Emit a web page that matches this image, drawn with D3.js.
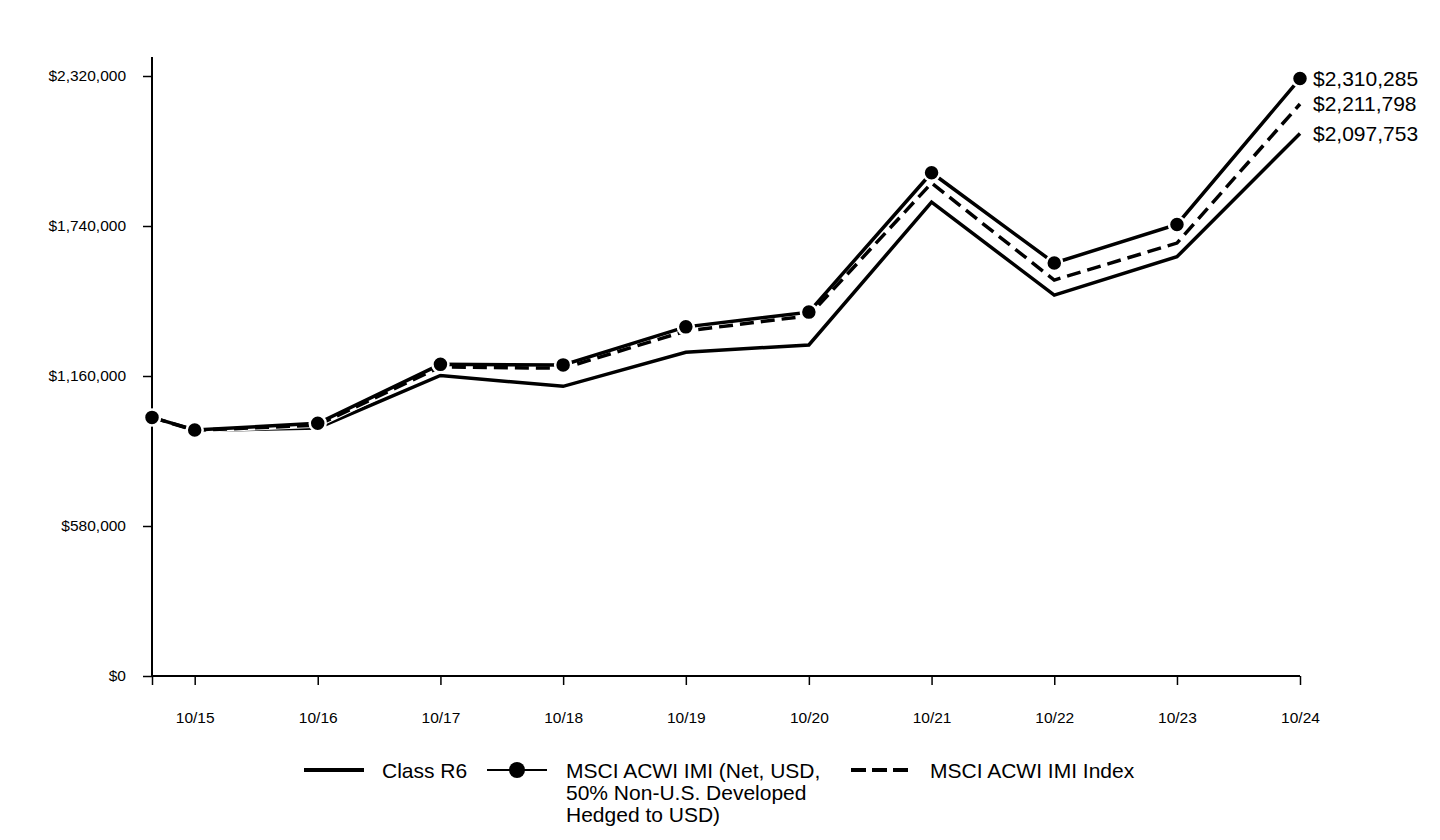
<!DOCTYPE html>
<html>
<head>
<meta charset="utf-8">
<script src="https://cdn.jsdelivr.net/npm/d3@7"></script>
<style>
  html, body { margin: 0; padding: 0; background: #fff; }
  svg { display: block; font-family: Arial, "Liberation Sans", Helvetica, sans-serif; }
</style>
</head>
<body>
<svg id="chart" width="1440" height="840"></svg>
<script>
// ---- data ----
const dates = ["2015-06-26", "2015-10-31", "2016-10-31", "2017-10-31", "2018-10-31", "2019-10-31",
               "2020-10-31", "2021-10-31", "2022-10-31", "2023-10-31", "2024-10-31"];
const tickLabels = ["", "10/15", "10/16", "10/17", "10/18", "10/19", "10/20", "10/21", "10/22", "10/23", "10/24"];
const classR6 = [1000000, 949000, 959000, 1162000, 1120000, 1252000, 1280000, 1832000, 1473000, 1621000, 2097753];
const msciHedged = [1000000, 951000, 977000, 1205000, 1203000, 1350000, 1407000, 1946000, 1597000, 1746000, 2310285];
const msciIndex = [1000000, 950000, 970000, 1195000, 1190000, 1334000, 1393000, 1906000, 1531000, 1674000, 2211798];
const yTicks = [0, 580000, 1160000, 1740000, 2320000];
const seriesNames = ["Class R6", "MSCI ACWI IMI (Net, USD,|50% Non-U.S. Developed|Hedged to USD)", "MSCI ACWI IMI Index"];

(function () {
const parse = d3.timeParse("%Y-%m-%d");
const xDates = dates.map(parse);

const svg = d3.select("#chart");
const mLeft = 152, mRight = 1300, mTop = 76, mBottom = 676;

const x = d3.scaleTime().domain([xDates[0], xDates[xDates.length - 1]]).range([mLeft, mRight]);
const y = d3.scaleLinear().domain([0, 2320000]).range([mBottom, mTop]);

// ---- axes ----
const yAxis = d3.axisLeft(y).tickValues(yTicks).tickSize(9).tickPadding(17)
  .tickFormat(d => "$" + d3.format(",")(d));
const gy = svg.append("g").attr("transform", `translate(${mLeft},0)`).call(yAxis);
gy.select(".domain").remove();
gy.selectAll(".tick line").attr("stroke", "#000").attr("stroke-width", 1.5);
gy.selectAll(".tick text").attr("font-size", 15.5).attr("fill", "#000");
svg.append("line").attr("x1", mLeft).attr("x2", mLeft).attr("y1", 57).attr("y2", mBottom)
  .attr("stroke", "#000").attr("stroke-width", 2);

const xAxis = d3.axisBottom(x).tickValues(xDates).tickSize(9).tickPadding(27)
  .tickFormat((d, i) => tickLabels[i]);
const gx = svg.append("g").attr("transform", `translate(0,${mBottom})`).call(xAxis);
gx.select(".domain").remove();
gx.selectAll(".tick line").attr("stroke", "#000").attr("stroke-width", 1.5);
gx.selectAll(".tick text").attr("font-size", 15.5).attr("fill", "#000");
svg.append("line").attr("x1", mLeft).attr("x2", mRight).attr("y1", mBottom).attr("y2", mBottom)
  .attr("stroke", "#000").attr("stroke-width", 2);

// ---- lines ----
const line = d3.line().x((d, i) => x(xDates[i])).y(d => y(d));

svg.append("path").datum(classR6).attr("d", line)
  .attr("fill", "none").attr("stroke", "#000").attr("stroke-width", 3.5);
svg.append("path").datum(msciIndex).attr("d", line)
  .attr("fill", "none").attr("stroke", "#fff").attr("stroke-width", 5.5);
svg.append("path").datum(msciIndex).attr("d", line)
  .attr("fill", "none").attr("stroke", "#000").attr("stroke-width", 3.5).attr("stroke-dasharray", "14,7");
svg.append("path").datum(msciHedged).attr("d", line)
  .attr("fill", "none").attr("stroke", "#000").attr("stroke-width", 3.5);
svg.selectAll("circle.pt").data(msciHedged).enter().append("circle").attr("class", "pt")
  .attr("cx", (d, i) => x(xDates[i])).attr("cy", d => y(d)).attr("r", 8)
  .attr("fill", "#000").attr("stroke", "#fff").attr("stroke-width", 2.5);

// ---- end labels ----
const lastI = dates.length - 1;
[msciHedged, msciIndex, classR6].forEach(s => {
  svg.append("text").attr("x", x(xDates[lastI]) + 13).attr("y", y(s[lastI]))
    .attr("dominant-baseline", "central").attr("font-size", 21).attr("fill", "#000")
    .text("$" + d3.format(",")(s[lastI]));
});

// ---- legend ----
const ly = 770;
const lg = svg.append("g");
lg.append("line").attr("x1", 304).attr("x2", 364).attr("y1", ly).attr("y2", ly)
  .attr("stroke", "#000").attr("stroke-width", 4);
lg.append("text").attr("x", 382).attr("y", ly).attr("dominant-baseline", "central")
  .attr("font-size", 21).text(seriesNames[0]);

lg.append("line").attr("x1", 487).attr("x2", 547).attr("y1", ly).attr("y2", ly)
  .attr("stroke", "#000").attr("stroke-width", 2);
lg.append("circle").attr("cx", 517).attr("cy", ly).attr("r", 8).attr("fill", "#000");
seriesNames[1].split("|").forEach((t, i) => {
  lg.append("text").attr("x", 566).attr("y", ly + i * 22).attr("dominant-baseline", "central")
    .attr("font-size", 21).text(t);
});

lg.append("line").attr("x1", 851).attr("x2", 910).attr("y1", ly).attr("y2", ly)
  .attr("stroke", "#000").attr("stroke-width", 4).attr("stroke-dasharray", "15,6");
lg.append("text").attr("x", 930).attr("y", ly).attr("dominant-baseline", "central")
  .attr("font-size", 21).text(seriesNames[2]);
})();
</script>
</body>
</html>
